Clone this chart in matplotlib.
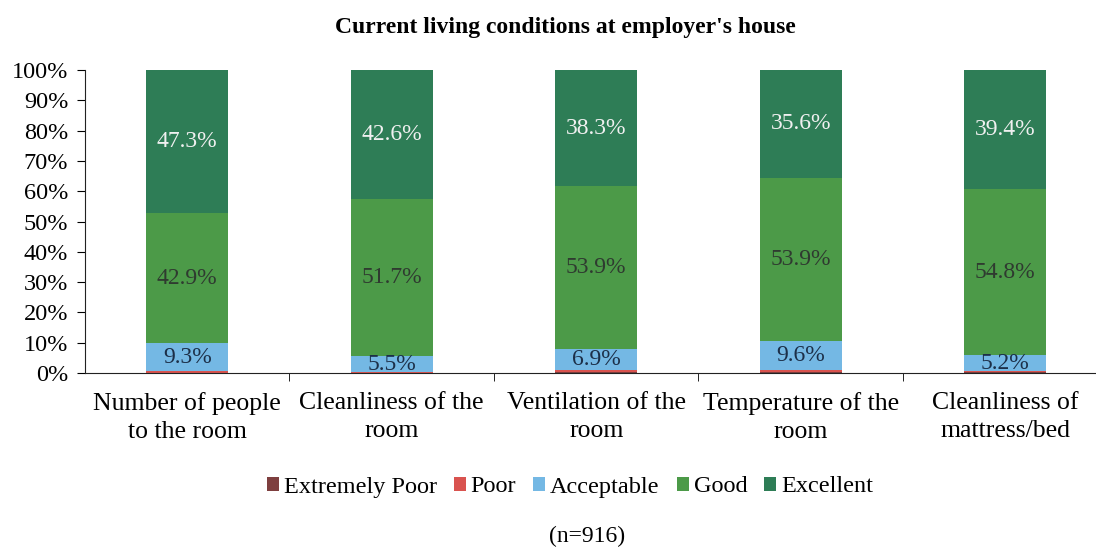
import numpy as np
import matplotlib.pyplot as plt
from matplotlib.patches import Patch

categories = ['Number of people\nto the room', 'Cleanliness of the\nroom', 'Ventilation of the\nroom',
              'Temperature of the\nroom', 'Cleanliness of\nmattress/bed']
series = ['Extremely Poor', 'Poor', 'Acceptable', 'Good', 'Excellent']
extremely_poor = [0.1, 0.1, 0.2, 0.2, 0.2]
poor = [0.4, 0.1, 0.7, 0.7, 0.4]
acceptable = [9.3, 5.5, 6.9, 9.6, 5.2]
good = [42.9, 51.7, 53.9, 53.9, 54.8]
excellent = [47.3, 42.6, 38.3, 35.6, 39.4]

colors = ['#7e3f3f', '#d9534f', '#74b8e4', '#4c9a48', '#2e7d56']
label_colors = [None, None, '#1c2f48', '#2f3a30', '#f0f0f0']

plt.rcParams['font.family'] = ['Liberation Serif', 'DejaVu Serif']

fig = plt.figure(figsize=(10.96, 5.47), dpi=100)
ax = fig.add_axes([85/1096, 1 - 373/547, 1 - 85/1096, 303/547])

x = np.arange(len(categories))
bottom = np.zeros(len(categories))
data = [extremely_poor, poor, acceptable, good, excellent]
for vals, c, lc in zip(data, colors, label_colors):
    vals = np.array(vals)
    ax.bar(x, vals, 0.40, bottom=bottom, color=c, zorder=2)
    if lc is not None:
        for xi, v, b in zip(x, vals, bottom):
            ax.text(xi, b + v / 2, '%.1f%%' % v, ha='center', va='center',
                    fontsize=17, color=lc, clip_on=True, zorder=3)
    bottom += vals

ax.set_ylim(0, 100)
ax.set_xlim(-0.5, 4.444)
ax.set_yticks(np.arange(0, 101, 10))
ax.set_yticklabels(['%d%%' % v for v in range(0, 101, 10)], fontsize=17.5)
ax.set_xticks(x)
ax.set_xticklabels(categories, fontsize=18.5, linespacing=1.3)
ax.set_xticks(np.arange(0.5, 4.5, 1), minor=True)
ax.tick_params(axis='x', which='major', length=0, pad=14)
ax.tick_params(axis='x', which='minor', length=6, direction='out')
ax.tick_params(axis='y', length=6, direction='out', pad=6)

for s in ['top', 'right']:
    ax.spines[s].set_visible(False)
ax.spines['left'].set_color('#222222')
ax.spines['bottom'].set_color('#222222')

fig.text(0.516, 1 - 28/547, "Current living conditions at employer's house",
         ha='center', va='center', fontsize=17, fontweight='bold')

handles = [Patch(facecolor=c, label=s) for c, s in zip(colors, series)]
fig.legend(handles=handles, loc='center', bbox_to_anchor=(0.52, 1 - 487/547),
           ncol=5, frameon=False, fontsize=17.5, handlelength=0.5, handleheight=0.5,
           handletextpad=0.2, columnspacing=0.7)

fig.text(0.536, 1 - 536/547, '(n=916)', ha='center', va='center', fontsize=17)

fig.savefig('out.png', dpi=100)
